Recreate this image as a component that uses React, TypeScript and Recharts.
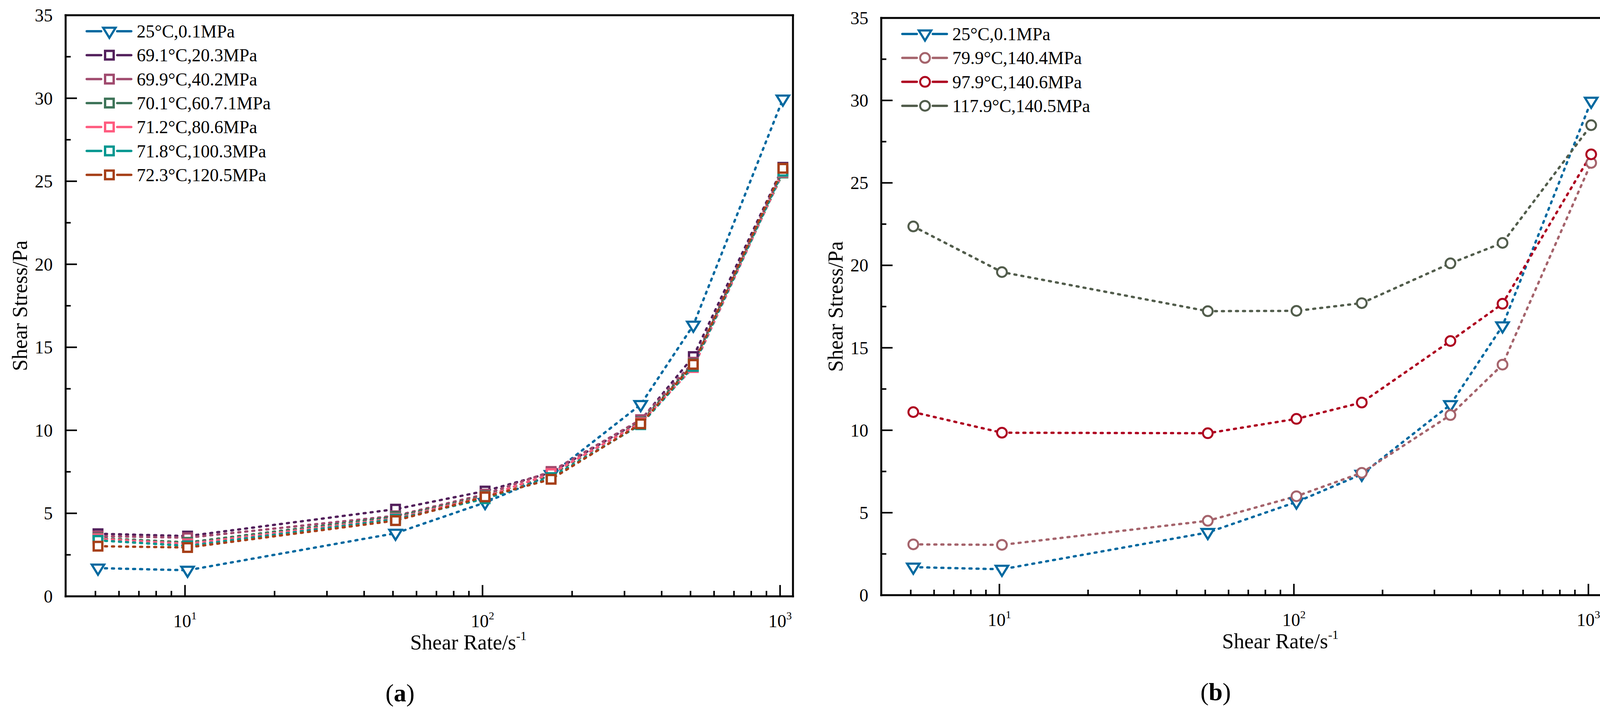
import React from 'react';
import { LineChart, Line, XAxis, YAxis, ReferenceLine } from 'recharts';

// shear rates of the viscometer (s^-1)
const RATES = [5.1, 10.2, 51, 102, 170, 340, 511, 1022];

// shear stress (Pa), panel (a)
const S_25C = [1.7, 1.57, 3.8, 5.65, 7.33, 11.55, 16.33, 29.95];
const S_691C = [3.77, 3.63, 5.25, 6.34, 7.45, 10.6, 14.44, 25.84];
const S_699C = [3.63, 3.53, 4.85, 6.15, 7.52, 10.64, 14.1, 25.7];
const S_701C = [3.51, 3.25, 4.8, 6.05, 7.3, 10.5, 14.0, 25.5];
const S_712C = [3.47, 3.16, 4.7, 6.0, 7.39, 10.45, 13.78, 25.55];
const S_718C = [3.37, 3.04, 4.65, 5.88, 7.15, 10.34, 13.85, 25.6];
const S_723C = [3.02, 2.94, 4.56, 5.99, 7.05, 10.39, 13.97, 25.78];

// shear stress (Pa), panel (b)
const S_799C = [3.08, 3.05, 4.51, 6.0, 7.42, 10.92, 13.98, 26.21];
const S_979C = [11.1, 9.85, 9.82, 10.69, 11.68, 15.41, 17.67, 26.73];
const S_1179C = [22.36, 19.59, 17.22, 17.24, 17.71, 20.12, 21.36, 28.5];

const X_TICKS = [5, 6, 7, 8, 9, 10, 20, 30, 40, 50, 60, 70, 80, 90, 100, 200, 300, 400, 500, 600, 700, 800, 900, 1000];
const Y_TICKS = [0, 2.5, 5, 7.5, 10, 12.5, 15, 17.5, 20, 22.5, 25, 27.5, 30, 32.5, 35];
const X_DOMAIN = [3.97, 1105];

const FONT = "'Times New Roman', 'Liberation Serif', serif";
const W = 4129;
const H = 1836;

type Shape = 'tri' | 'square' | 'circle';
interface Series { key: string; name: string; color: string; shape: Shape; values: number[] }

const SERIES_A: Series[] = [
  { key: 's0', name: '25°C,0.1MPa', color: '#0069A0', shape: 'tri', values: S_25C },
  { key: 's1', name: '69.1°C,20.3MPa', color: '#53205C', shape: 'square', values: S_691C },
  { key: 's2', name: '69.9°C,40.2MPa', color: '#A04A6E', shape: 'square', values: S_699C },
  { key: 's3', name: '70.1°C,60.7.1MPa', color: '#3E7459', shape: 'square', values: S_701C },
  { key: 's4', name: '71.2°C,80.6MPa', color: '#FF5B7F', shape: 'square', values: S_712C },
  { key: 's5', name: '71.8°C,100.3MPa', color: '#00968F', shape: 'square', values: S_718C },
  { key: 's6', name: '72.3°C,120.5MPa', color: '#A63F18', shape: 'square', values: S_723C },
];

const SERIES_B: Series[] = [
  { key: 's0', name: '25°C,0.1MPa', color: '#0069A0', shape: 'tri', values: S_25C },
  { key: 's1', name: '79.9°C,140.4MPa', color: '#A5646C', shape: 'circle', values: S_799C },
  { key: 's2', name: '97.9°C,140.6MPa', color: '#AE0220', shape: 'circle', values: S_979C },
  { key: 's3', name: '117.9°C,140.5MPa', color: '#525D4C', shape: 'circle', values: S_1179C },
];

const buildRows = (series: Series[]) =>
  RATES.map((rate, i) => {
    const row: Record<string, number> = { rate };
    series.forEach((s) => { row[s.key] = s.values[i]; });
    return row;
  });

const Marker = ({ shape, cx, cy, color }: { shape: Shape; cx: number; cy: number; color: string }) => {
  if (shape === 'square') {
    return <rect x={cx - 11} y={cy - 11} width={22} height={22} fill="#fff" stroke={color} strokeWidth={6} />;
  }
  if (shape === 'circle') {
    return <circle cx={cx} cy={cy} r={12.5} fill="#fff" stroke={color} strokeWidth={5} />;
  }
  return (
    <polygon
      points={`${cx - 16},${cy - 9} ${cx + 16},${cy - 9} ${cx},${cy + 17}`}
      fill="#fff"
      stroke={color}
      strokeWidth={5.5}
    />
  );
};

const XTick = (props: any) => {
  const { x, y, payload } = props;
  const lg = Math.log10(payload.value);
  const major = Math.abs(lg - Math.round(lg)) < 1e-6;
  return (
    <g>
      <line x1={x} x2={x} y1={y} y2={y - (major ? 29 : 14)} stroke="#000" strokeWidth={4} />
      {major && (
        <text x={x} y={y + 79} textAnchor="middle" fontSize={46} fontFamily={FONT} fill="#000">
          10<tspan dy={-20} fontSize={28}>{Math.round(lg)}</tspan>
        </text>
      )}
    </g>
  );
};

const YTick = (props: any) => {
  const { x, y, payload } = props;
  const major = payload.value % 5 === 0;
  return (
    <g>
      <line x1={x} x2={x + (major ? 29 : 13)} y1={y} y2={y} stroke="#000" strokeWidth={4} />
      {major && (
        <text x={x - 33} y={y + 16} textAnchor="end" fontSize={46} fontFamily={FONT} fill="#000">
          {payload.value}
        </text>
      )}
    </g>
  );
};

interface Plot { L: number; R: number; T: number; B: number }
interface PanelProps { series: Series[]; left: number; width: number; plot: Plot }

const AXIS_W = 10;

const Panel = ({ series, left, width, plot }: PanelProps) => {
  const data = buildRows(series);
  const axisStyle = { stroke: '#000', strokeWidth: 5, strokeLinecap: 'square' as const };
  return (
    <div style={{ position: 'absolute', left, top: 0, width, height: H }}>
      <LineChart
        width={width}
        height={H}
        data={data}
        margin={{
          top: plot.T,
          left: plot.L - left - AXIS_W,
          right: left + width - plot.R,
          bottom: H - plot.B - AXIS_W,
        }}
      >
        <XAxis
          dataKey="rate"
          type="number"
          scale="log"
          domain={X_DOMAIN}
          allowDataOverflow
          ticks={X_TICKS}
          interval={0}
          height={AXIS_W}
          tickSize={0}
          tickMargin={0}
          tickLine={false}
          axisLine={axisStyle}
          tick={<XTick />}
        />
        <YAxis
          type="number"
          domain={[0, 35]}
          allowDataOverflow
          ticks={Y_TICKS}
          interval={0}
          width={AXIS_W}
          tickSize={0}
          tickMargin={0}
          tickLine={false}
          axisLine={axisStyle}
          tick={<YTick />}
        />
        <ReferenceLine y={35} stroke="#000" strokeWidth={5} strokeLinecap="square" />
        <ReferenceLine x={X_DOMAIN[1]} stroke="#000" strokeWidth={5} strokeLinecap="square" />
        {series.map((s) => (
          <Line
            key={s.key}
            dataKey={s.key}
            type="linear"
            stroke={s.color}
            strokeWidth={6}
            strokeDasharray="5 13"
            strokeLinecap="round"
            isAnimationActive={false}
            activeDot={false}
            dot={(p: any) => (
              <Marker key={`${s.key}-${p.index}`} shape={s.shape} cx={p.cx} cy={p.cy} color={s.color} />
            )}
          />
        ))}
      </LineChart>
    </div>
  );
};

const Labels = ({ series, plot, tag }: { series: Series[]; plot: Plot; tag: string }) => {
  const { L, R, T, B } = plot;
  return (
    <g fontFamily={FONT} fill="#000">
      {series.map((s, i) => {
        const y = T + 41 + i * 61.3;
        return (
          <g key={s.key}>
            <line x1={L + 54} x2={L + 91} y1={y} y2={y} stroke={s.color} strokeWidth={6} strokeLinecap="round" />
            <line x1={L + 132} x2={L + 168} y1={y} y2={y} stroke={s.color} strokeWidth={6} strokeLinecap="round" />
            <Marker shape={s.shape} cx={L + 112} cy={y} color={s.color} />
            <text x={L + 182} y={y + 16} fontSize={46}>{s.name}</text>
          </g>
        );
      })}
      <text transform={`translate(${L - 99}, ${(T + B) / 2}) rotate(-90)`} textAnchor="middle" fontSize={54}>
        Shear Stress/Pa
      </text>
      <text x={(L + R) / 2 + 100} y={B + 136} textAnchor="middle" fontSize={54}>
        Shear Rate/s<tspan dy={-24} fontSize={32}>-1</tspan>
      </text>
      <text x={L + 856} y={B + 269} textAnchor="middle" fontSize={64}>
        (<tspan fontWeight="bold">{tag}</tspan>)
      </text>
    </g>
  );
};

const PLOT_A: Plot = { L: 168, R: 2030, T: 39, B: 1527 };
const PLOT_B: Plot = { L: 2256, R: 4099, T: 46, B: 1524 };

export default function App() {
  return (
    <div style={{ position: 'absolute', left: 0, top: 0, width: W, height: H, background: '#fff', overflow: 'hidden' }}>
      <style>{'html,body{margin:0;padding:0;overflow:hidden;}'}</style>
      <Panel series={SERIES_A} left={0} width={2060} plot={PLOT_A} />
      <Panel series={SERIES_B} left={2070} width={2059} plot={PLOT_B} />
      <svg width={W} height={H} style={{ position: 'absolute', left: 0, top: 0, pointerEvents: 'none' }}>
        <Labels series={SERIES_A} plot={PLOT_A} tag="a" />
        <Labels series={SERIES_B} plot={PLOT_B} tag="b" />
      </svg>
    </div>
  );
}
